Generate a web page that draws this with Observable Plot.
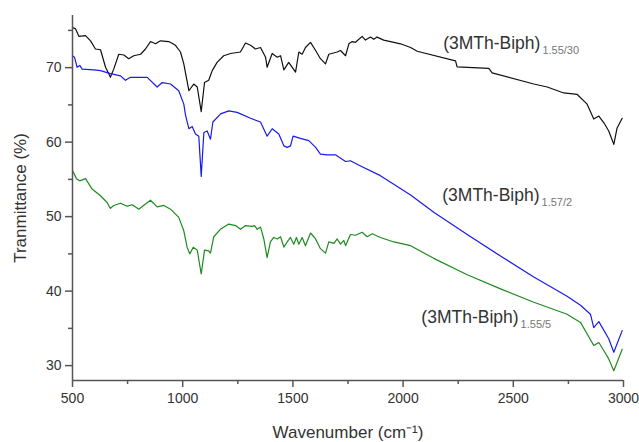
<!DOCTYPE html>
<html><head><meta charset="utf-8">
<script src="https://cdn.jsdelivr.net/npm/d3@7"></script>
<script src="https://cdn.jsdelivr.net/npm/@observablehq/plot@0.6"></script>
<style>body{margin:0;background:#fff;}</style>
</head><body><div id="chart"></div>
<script>
// (3MTh-Biph)1.55/30 — black
const blackWn = [500,514,529,559,582,604,627,650,672,687,710,733,755,778,809,831,854,877,899,937,967,990,1005,1028,1050,1066,1084,1099,1118,1134,1156,1186,1217,1262,1285,1308,1330,1353,1376,1383,1406,1429,1444,1459,1481,1512,1527,1542,1557,1580,1603,1625,1648,1663,1701,1716,1739,1754,1769,1784,1814,1829,1852,1867,1882,1912,1958,1988,2034,2064,2238,2245,2389,2404,2593,2654,2729,2790,2835,2865,2888,2911,2933,2956,2971,2994];
const blackT  = [75.4,75.2,74.2,74.3,73.6,72.5,72.4,70.05,68.7,69.8,71.8,71.7,71.2,71.6,71.8,72.5,73.5,73.2,73.6,73.5,73.0,72.1,70.5,66.9,67.8,67.4,64.1,68.0,68.3,69.6,70.7,71.6,71.9,72.1,73.3,73.0,72.5,72.7,71.4,70.05,71.9,71.4,71.6,69.7,70.7,69.4,72.1,71.8,72.7,73.4,72.3,71.2,70.5,71.8,72.1,72.3,71.6,73.2,73.5,73.4,74.2,73.7,74.1,73.8,74.1,73.7,73.4,73.2,72.7,72.2,70.9,70.1,69.9,69.3,67.8,67.4,66.6,66.4,65.1,63.1,63.5,62.6,61.5,59.7,61.9,63.2];
// (3MTh-Biph)1.57/2 — blue
const blueWn = [500,509,521,533,544,597,627,672,718,740,763,839,884,907,945,982,1005,1013,1028,1043,1058,1073,1084,1096,1111,1126,1137,1172,1209,1247,1308,1353,1383,1406,1436,1459,1474,1489,1501,1534,1572,1603,1625,1656,1693,1739,1761,1807,1897,2034,2139,2291,2442,2593,2744,2805,2850,2865,2888,2933,2956,2994];
const blueT  = [71.6,71.4,70.05,70.3,69.8,69.7,69.6,69.2,68.9,68.3,68.7,68.7,67.4,68.0,67.8,66.9,65.1,63.6,61.8,62.1,61.1,60.8,55.4,61.3,61.5,60.4,62.7,63.8,64.2,64.0,63.2,62.7,60.8,61.8,61.1,59.5,59.3,59.5,60.8,60.5,60.2,59.3,58.4,58.3,58.3,57.4,57.5,56.8,55.5,52.9,50.6,47.6,44.7,41.9,39.3,38.1,36.9,35.1,35.9,33.6,31.8,34.7];
// (3MTh-Biph)1.55/5 — green
const greenWn = [500,518,533,559,589,627,657,672,687,718,748,771,801,831,854,884,914,945,982,1005,1020,1032,1048,1066,1084,1099,1118,1126,1141,1171,1209,1240,1262,1285,1315,1326,1338,1353,1368,1383,1398,1413,1429,1444,1459,1474,1489,1504,1516,1527,1542,1557,1580,1603,1625,1648,1663,1686,1701,1716,1731,1739,1761,1784,1814,1837,1860,1897,1958,2034,2139,2291,2442,2593,2744,2805,2865,2888,2911,2933,2956,2994];
const greenT  = [56.2,55.1,54.8,55.1,53.7,52.8,51.9,51.1,51.5,51.8,51.4,51.6,51.0,51.7,52.2,51.3,51.5,51.0,49.9,48.1,45.9,45.0,45.9,45.5,42.3,45.5,45.4,45.1,47.3,48.3,49.0,48.8,48.3,48.8,48.7,48.8,48.3,48.6,47.0,44.5,46.6,47.2,47.0,47.3,45.9,46.6,47.2,46.3,47.2,46.3,47.2,46.1,47.8,47.0,45.7,45.1,46.6,46.4,47.0,46.3,46.8,46.1,47.6,47.5,47.9,47.3,47.7,47.2,46.6,46.1,44.4,42.2,40.3,38.5,36.9,35.8,32.7,33.1,32.0,30.9,29.3,32.2];

const seriesNames = ["1.55/30", "1.57/2", "1.55/5"];
const seriesColors = ["#111111", "#1a1aee", "#1f8a1f"];
const xTicks = [500, 1000, 1500, 2000, 2500, 3000];
const xMinor = [750, 1250, 1750, 2250, 2750];
const yTicks = [30, 40, 50, 60, 70];
const yMinor = [35, 45, 55, 65, 75];
// label anchor (junction of main text and subscript), in data units
const labelWn = [2623, 2619, 2524];
const labelT  = [73.2, 52.8, 36.5];

const wnArrays = [blackWn, blueWn, greenWn];
const tArrays = [blackT, blueT, greenT];
const rows = seriesNames.flatMap((s, k) => wnArrays[k].map((w, i) => ({series: s, wn: w, t: tArrays[k][i]})));
const labels = seriesNames.map((s, k) => ({series: s, wn: labelWn[k], t: labelT[k]}));
const plain = d => String(d);

const chart = Plot.plot({
  width: 639, height: 442,
  marginLeft: 72, marginRight: 16, marginTop: 15, marginBottom: 62,
  x: {domain: [500, 3000]},
  y: {domain: [28, 77]},
  color: {domain: seriesNames, range: seriesColors},
  style: {fontFamily: "Arial, 'Liberation Sans', Helvetica, sans-serif", fontSize: "14px", color: "#333", background: "#fff", overflow: "visible"},
  marks: [
    Plot.line(rows, {x: "wn", y: "t", z: "series", stroke: "series", strokeWidth: 1.2}),
    Plot.ruleX([500], {stroke: "#555", strokeWidth: 1.5}),
    Plot.ruleY([28], {stroke: "#555", strokeWidth: 1.5}),
    Plot.axisY({ticks: yTicks, tickSize: 7, tickPadding: 4, tickFormat: plain, stroke: "#555", strokeWidth: 1.5, fontSize: 14, label: null}),
    Plot.axisY({ticks: yMinor, tickSize: 4, tickFormat: () => "", stroke: "#555", strokeWidth: 1.5, label: null}),
    Plot.axisY({ticks: [], label: "Tranmittance (%)", labelAnchor: "center", labelOffset: 59, labelArrow: "none", fontSize: 17}),
    Plot.axisX({ticks: xTicks, tickSize: 7, tickPadding: 6, tickFormat: plain, stroke: "#555", strokeWidth: 1.5, fontSize: 14, label: null}),
    Plot.axisX({ticks: xMinor, tickSize: 4, tickFormat: () => "", stroke: "#555", strokeWidth: 1.5, label: null}),
    Plot.axisX({ticks: [], label: "Wavenumber (cm⁻¹)", labelAnchor: "center", labelOffset: 57, labelArrow: "none", fontSize: 17}),
    Plot.text(labels, {x: "wn", y: "t", text: () => "(3MTh-Biph)", textAnchor: "end", fontSize: 17.5, fill: "#333"}),
    Plot.text(labels, {x: "wn", y: "t", text: "series", textAnchor: "start", dx: 2, dy: 7, fontSize: 11, fill: "#777"})
  ]
});
document.getElementById("chart").appendChild(chart);
</script>
</body></html>
